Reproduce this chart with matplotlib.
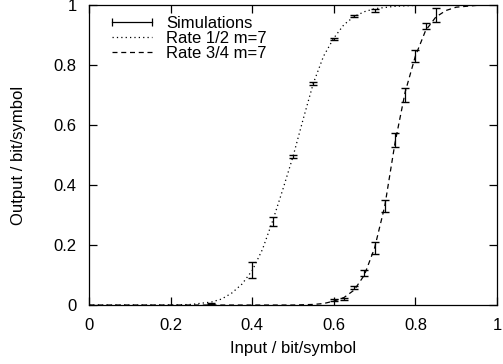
import matplotlib
matplotlib.use("Agg")
import matplotlib.pyplot as plt
from matplotlib.lines import Line2D

plt.rcParams["font.family"] = ["Liberation Sans", "DejaVu Sans"]
plt.rcParams["font.size"] = 12

# simulated points (rate 1/2)
sim12_x = [0.30, 0.40, 0.45, 0.50, 0.55, 0.60, 0.65, 0.70]
sim12_y = [0.005, 0.117, 0.280, 0.495, 0.738, 0.886, 0.963, 0.983]
sim12_err = [0.003, 0.028, 0.015, 0.005, 0.006, 0.004, 0.003, 0.005]

# simulated points (rate 3/4)
sim34_x = [0.600, 0.625, 0.650, 0.675, 0.700, 0.725, 0.750, 0.775, 0.800, 0.825, 0.850]
sim34_y = [0.017, 0.020, 0.057, 0.107, 0.190, 0.330, 0.550, 0.700, 0.830, 0.930, 0.967]
sim34_err = [0.004, 0.004, 0.005, 0.010, 0.020, 0.020, 0.023, 0.022, 0.020, 0.010, 0.022]

# curves
c12_x = [0.0, 0.1, 0.2, 0.25, 0.3, 0.325, 0.35, 0.375, 0.4, 0.425, 0.45, 0.475, 0.5,
         0.525, 0.55, 0.575, 0.6, 0.625, 0.65, 0.675, 0.7, 0.75, 0.8, 0.9, 1.0]
c12_y = [0.0, 0.0, 0.0, 0.002, 0.01, 0.02, 0.04, 0.07, 0.115, 0.185, 0.28, 0.385, 0.495,
         0.62, 0.74, 0.83, 0.89, 0.935, 0.962, 0.978, 0.988, 0.996, 0.999, 1.0, 1.0]

c34_x = [0.0, 0.4, 0.5, 0.55, 0.575, 0.6, 0.625, 0.65, 0.675, 0.7, 0.725, 0.75, 0.775,
         0.8, 0.825, 0.85, 0.875, 0.9, 0.95, 1.0]
c34_y = [0.0, 0.0, 0.0, 0.002, 0.005, 0.013, 0.025, 0.05, 0.1, 0.19, 0.33, 0.54, 0.71,
         0.83, 0.915, 0.96, 0.982, 0.993, 0.999, 1.0]

fig = plt.figure(figsize=(5.03, 3.64), dpi=100)
ax = fig.add_axes([0.177, 0.162, 0.811, 0.824])

ax.plot(c12_x, c12_y, color="k", lw=0.9, linestyle=(0, (1, 2.5)))
ax.plot(c34_x, c34_y, color="k", lw=0.9, linestyle=(0, (4, 3)))
ax.errorbar(sim12_x, sim12_y, yerr=sim12_err, fmt="none", ecolor="k", elinewidth=0.9, capsize=3)
ax.errorbar(sim34_x, sim34_y, yerr=sim34_err, fmt="none", ecolor="k", elinewidth=0.9, capsize=3)

ax.set_xlim(0, 1)
ax.set_ylim(0, 1)
ax.set_xticks([0, 0.2, 0.4, 0.6, 0.8, 1])
ax.set_xticklabels(["0", "0.2", "0.4", "0.6", "0.8", "1"])
ax.set_yticks([0, 0.2, 0.4, 0.6, 0.8, 1])
ax.set_yticklabels(["0", "0.2", "0.4", "0.6", "0.8", "1"])
ax.tick_params(direction="in", length=6, width=0.9, top=True, right=True, pad=9)
for s in ax.spines.values():
    s.set_linewidth(0.9)

ax.set_xlabel("Input / bit/symbol", labelpad=6)
ax.set_ylabel("Output / bit/symbol", labelpad=20)

handles = [
    Line2D([], [], color="k", lw=0.9, marker="|", markersize=6, markeredgewidth=0.9),
    Line2D([], [], color="k", lw=0.9, linestyle=(0, (1, 2.5))),
    Line2D([], [], color="k", lw=0.9, linestyle=(0, (4, 3))),
]
labels = ["Simulations", "Rate 1/2 m=7", "Rate 3/4 m=7"]
ax.legend(handles, labels, loc="upper left", frameon=False, numpoints=2,
          handlelength=3.0, handletextpad=0.55, labelspacing=0.0,
          borderaxespad=0.0, bbox_to_anchor=(0.028, 0.987))

fig.savefig("out.png", dpi=100)
